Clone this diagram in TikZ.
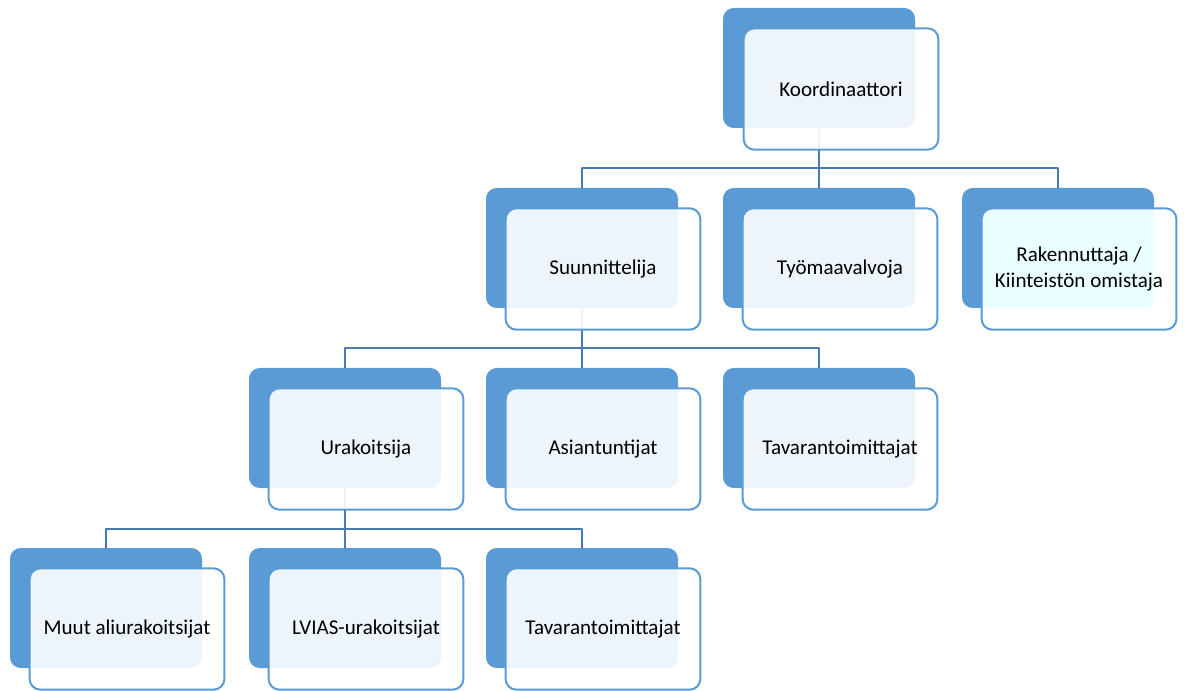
\documentclass[tikz,border=0pt]{standalone}
\usepackage{fontspec}
\setmainfont{Carlito}
\usepackage{tikz}
\usetikzlibrary{positioning}
\definecolor{boxblue}{RGB}{91,155,213}
\definecolor{lineblue}{RGB}{72,123,178}
\definecolor{paleCyan}{RGB}{234,255,255}
\tikzset{every path/.style={line cap=round, line join=round}}

\begin{document}
\begin{tikzpicture}[
    x=0.75pt, y=-0.75pt,
    font=\fontsize{15.8}{19}\selectfont,
    back/.style={
        fill=boxblue,
        rounded corners=8pt,
        minimum width=144pt,
        minimum height=90pt,
        inner sep=0pt
    },
    front/.style={
        draw=boxblue,
        line width=1.5pt,
        fill=white,
        fill opacity=0.9,
        text opacity=1,
        rounded corners=8pt,
        align=center,
        minimum width=146pt,
        minimum height=91pt,
        inner sep=2pt
    },
    owner/.style={front, fill opacity=1,
        path picture={\fill[paleCyan, rounded corners=8pt]
            (rakBack.south west) rectangle (rakBack.north east);}},
    line/.style={draw=lineblue, line width=1.6pt}
]
\useasboundingbox (0,0) rectangle (1185,691);

% back plates
\node[back] (koordBack) at (819,68) {};
\node[back] (suunBack) at (582,248) {};
\node[back] (tyoBack) at (819,248) {};
\node[back] (rakBack) at (1058,248) {};
\node[back] (urakBack) at (345,428) {};
\node[back] (asiBack) at (582,428) {};
\node[back] (tavABack) at (819,428) {};
\node[back] (muutBack) at (106,608) {};
\node[back] (lviasBack) at (345,608) {};
\node[back] (tavBBack) at (582,608) {};

% connectors
\coordinate (joinTop) at (819,168);
\draw[line] (koordBack.south) -- (joinTop);
\draw[line] (joinTop) -| (suunBack.north);
\draw[line] (joinTop) -| (tyoBack.north);
\draw[line] (joinTop) -| (rakBack.north);

\coordinate (joinMid) at (582,348);
\draw[line] (suunBack.south) -- (joinMid);
\draw[line] (joinMid) -| (urakBack.north);
\draw[line] (joinMid) -| (asiBack.north);
\draw[line] (joinMid) -| (tavABack.north);

\coordinate (joinBot) at (345,529);
\draw[line] (urakBack.south) -- (joinBot);
\draw[line] (joinBot) -| (muutBack.north);
\draw[line] (joinBot) -| (lviasBack.north);
\draw[line] (joinBot) -| (tavBBack.north);

% front boxes
\node[front] (koord) at (841,89) {Koordinaattori};
\node[front] (suun) at (603,269) {Suunnittelija};
\node[front] (tyo) at (840,269) {Työmaavalvoja};
\node[owner] (rak) at (1079,269) {Rakennuttaja /\\Kiinteistön omistaja};
\node[front] (urak) at (366,449) {Urakoitsija};
\node[front] (asi) at (603,449) {Asiantuntijat};
\node[front] (tavA) at (840,449) {Tavarantoimittajat};
\node[front] (muut) at (127,629) {Muut aliurakoitsijat};
\node[front] (lvias) at (366,629) {LVIAS-urakoitsijat};
\node[front] (tavB) at (603,629) {Tavarantoimittajat};

\end{tikzpicture}
\end{document}
